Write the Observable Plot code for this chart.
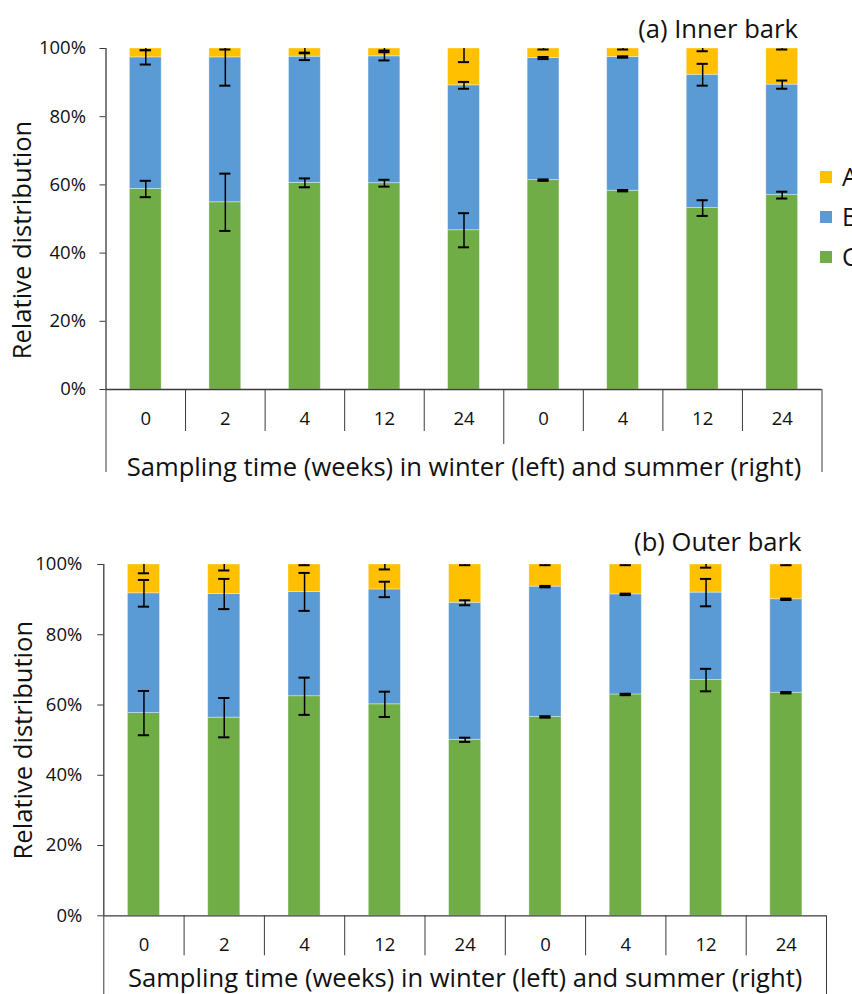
<!DOCTYPE html>
<html><head><meta charset="utf-8">
<script src="https://cdn.jsdelivr.net/npm/d3@7"></script>
<script src="https://cdn.jsdelivr.net/npm/@observablehq/plot@0.6"></script>
<style>
html,body{margin:0;padding:0;background:#fff;overflow:hidden;}
#wrap{position:relative;width:852px;height:994px;overflow:hidden;font-family:"Open Sans",sans-serif;color:#111;}
.panel{position:absolute;left:0;}
.sw{position:absolute;width:12px;height:12px;}
.lt{position:absolute;font-size:25px;line-height:25px;}
</style></head><body><div id="wrap"></div>
<script>
// ---- data ----
const times = ["0","2","4","12","24","0","4","12","24"];
const seriesNames = ["A","B","C"];
const seriesColors = ["#FFC000","#5B9BD5","#70AD47"];
const yTicks = [0,20,40,60,80,100];
const xTitle = "Sampling time (weeks) in winter (left) and summer (right)";
const yTitle = "Relative distribution";

// (a) Inner bark — segment shares (%) and error half-widths
const innerC = [58.8, 54.9, 60.6, 60.5, 46.7, 61.4, 58.3, 53.2, 57.0];
const innerB = [38.6, 42.5, 37.0, 37.2, 42.5, 35.8, 39.2, 39.1, 32.4];
const innerA = [2.6, 2.6, 2.4, 2.3, 10.8, 2.8, 2.5, 7.7, 10.6];
const innerErrC = [2.4, 8.4, 1.3, 1.0, 5.0, 0.2, 0.2, 2.3, 1.0];
const innerErrB = [2.1, 8.3, 1.0, 1.2, 1.0, 0.3, 0.2, 3.2, 1.2];
const innerErrA = [0.5, 0.3, 1.2, 0.6, 4.0, 0.3, 0.3, 0.8, 0.3];

// (b) Outer bark
const outerC = [57.7, 56.4, 62.5, 60.2, 50.1, 56.6, 63.0, 67.1, 63.5];
const outerB = [34.1, 35.2, 29.7, 32.7, 39.0, 37.1, 28.5, 24.9, 26.6];
const outerA = [8.2, 8.4, 7.8, 7.1, 10.9, 6.3, 8.5, 8.0, 9.9];
const outerErrC = [6.3, 5.6, 5.3, 3.6, 0.6, 0.2, 0.2, 3.2, 0.2];
const outerErrB = [3.8, 4.3, 5.4, 2.2, 0.7, 0.2, 0.2, 3.9, 0.2];
const outerErrA = [2.5, 1.7, 0.2, 1.4, 0.2, 0.2, 0.2, 0.9, 0.2];

const axisColor = "#3a3a3a";
const titleSize = 25.6;

function makePanel(cfg) {
  const segs = [], errs = [];
  times.forEach((t, i) => {
    const parts = [["C", cfg.C[i], cfg.eC[i]], ["B", cfg.B[i], cfg.eB[i]], ["A", cfg.A[i], cfg.eA[i]]];
    let base = 0;
    for (const [s, v, e] of parts) {
      const topV = Math.round((base + v) * 100) / 100;
      segs.push({i, s, y1: base, y2: topV});
      errs.push({i, top: topV, e});
      base = topV;
    }
  });
  const cw = 0.07;
  const upper = errs.filter(d => d.top + d.e <= 100.0001);
  const n = times.length;
  const inner = d3.range(1, n).filter(k => k !== cfg.mid);
  return Plot.plot({
    width: 852, height: cfg.height,
    marginLeft: cfg.ml, marginRight: cfg.mr, marginTop: cfg.mt, marginBottom: cfg.mb,
    style: {fontFamily: "Open Sans", fontSize: "18.5px", color: "#111", background: "transparent", overflow: "visible"},
    x: {domain: [0, n], label: null},
    y: {domain: [0, 100], label: null},
    color: {domain: seriesNames, range: seriesColors},
    marks: [
      Plot.rectY(segs, {x1: d => d.i + 0.3, x2: d => d.i + 0.7, y1: "y1", y2: "y2", fill: "s",
        stroke: "#ffffff", strokeOpacity: 0.45, strokeWidth: 0.8}),
      Plot.ruleX(errs, {x: d => d.i + 0.5, y1: d => Math.max(0, d.top - d.e), y2: d => Math.min(100, d.top + d.e), stroke: "#000", strokeWidth: 1.5}),
      Plot.ruleY(errs, {x1: d => d.i + 0.5 - cw, x2: d => d.i + 0.5 + cw, y: d => d.top - d.e, stroke: "#000", strokeWidth: 2}),
      Plot.ruleY(upper, {x1: d => d.i + 0.5 - cw, x2: d => d.i + 0.5 + cw, y: d => d.top + d.e, stroke: "#000", strokeWidth: 2}),
      Plot.ruleX([0], {stroke: axisColor, strokeWidth: 1.3}),
      Plot.ruleY([0], {stroke: axisColor, strokeWidth: 1.3}),
      Plot.axisY(yTicks, {tickSize: 6, tickPadding: cfg.ytp, tickFormat: d => d + "%", stroke: axisColor, fill: "#111", label: null, fontSize: 18.5}),
      Plot.axisX(inner, {tickSize: cfg.tick, tickFormat: () => "", stroke: axisColor, label: null}),
      Plot.axisX(cfg.mid != null ? [cfg.mid] : [], {tickSize: cfg.midTick, tickFormat: () => "", stroke: axisColor, label: null}),
      Plot.axisX([0, n], {tickSize: cfg.edgeTick, tickFormat: () => "", stroke: axisColor, label: null}),
      Plot.axisX(d3.range(n).map(k => k + 0.5), {tickSize: 0, tickPadding: 22, tickFormat: d => times[Math.floor(d)], fill: "#111", label: null, fontSize: 18.5}),
      Plot.text([xTitle], {frameAnchor: "bottom", textAnchor: "middle", lineAnchor: "middle", dy: cfg.xtDy, fontSize: titleSize, fill: "#111"}),
      Plot.text([yTitle], {frameAnchor: "left", textAnchor: "middle", lineAnchor: "middle", rotate: -90, dx: cfg.ytDx, dy: cfg.ytDy, fontSize: titleSize, fill: "#111"}),
      Plot.text([cfg.title], {frameAnchor: "top-right", textAnchor: "end", lineAnchor: "middle", dx: cfg.tDx, dy: cfg.tDy, fontSize: titleSize, fill: "#111"})
    ]
  });
}

const wrap = document.getElementById("wrap");

const topPanel = makePanel({C: innerC, B: innerB, A: innerA, eC: innerErrC, eB: innerErrB, eA: innerErrA,
  title: "(a) Inner bark", height: 490, ml: 105.5, mr: 30.5, mt: 48, mb: 101,
  tick: 42, mid: 5, midTick: 55, edgeTick: 83, ytp: 14, xtDy: 78, ytDx: -83, ytDy: 21, tDx: -24, tDy: -19});
topPanel.classList.add("panel"); topPanel.style.top = "0px";
wrap.appendChild(topPanel);

const bottomPanel = makePanel({C: outerC, B: outerB, A: outerA, eC: outerErrC, eB: outerErrB, eA: outerErrA,
  title: "(b) Outer bark", height: 494, ml: 103.3, mr: 26, mt: 64, mb: 78.7,
  tick: 40, mid: null, midTick: 40, edgeTick: 80, ytp: 15.5, xtDy: 63, ytDx: -80, ytDy: 0, tDx: -25, tDy: -22});
bottomPanel.classList.add("panel"); bottomPanel.style.top = "500px";
wrap.appendChild(bottomPanel);

// legend (top panel, right side; labels run off the right edge as in the reference)
const legendTops = [171, 211, 251];
seriesNames.forEach((s, k) => {
  const sw = document.createElement("div");
  sw.className = "sw"; sw.style.left = "820px"; sw.style.top = legendTops[k] + "px"; sw.style.background = seriesColors[k];
  wrap.appendChild(sw);
  const lt = document.createElement("div");
  lt.className = "lt"; lt.style.left = "842px"; lt.style.top = (legendTops[k] - 7) + "px"; lt.textContent = s;
  wrap.appendChild(lt);
});
</script>
</body></html>
